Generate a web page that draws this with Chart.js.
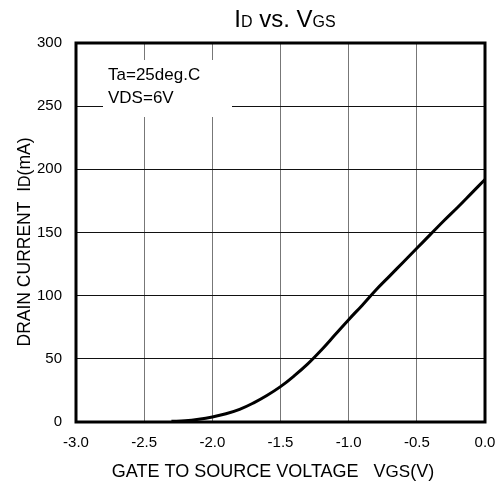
<!DOCTYPE html>
<html>
<head>
<meta charset="utf-8">
<script src="https://cdn.jsdelivr.net/npm/chart.js@4/dist/chart.umd.min.js"></script>
<style>
  html, body { margin: 0; padding: 0; background: #fff; }
  #wrap { width: 498px; height: 489px; }
</style>
</head>
<body>
<div id="wrap"><canvas id="chart" width="498" height="489"></canvas></div>
<script>
// Vgs (V) and Id (mA)
const vgs = [-2.3, -2.2, -2.1, -2.0, -1.9, -1.8, -1.7, -1.6, -1.5, -1.4, -1.3, -1.2,
  -1.1, -1.0, -0.9, -0.8, -0.7, -0.6, -0.5, -0.4, -0.3, -0.2, -0.1, 0.0];
const idMa = [0.5, 1, 2.2, 4, 6.5, 10, 15, 21, 28, 36.5, 46, 57,
  69, 81, 92.5, 104.5, 115.5, 126.5, 137.5, 148.5, 159.5, 170, 181, 192];

const xTicks = [-3.0, -2.5, -2.0, -1.5, -1.0, -0.5, 0.0];
const yTicks = [0, 50, 100, 150, 200, 250, 300];
const noteLines = ["Ta=25deg.C", "VDS=6V"];

const FONT = "'Liberation Sans', Arial, sans-serif";

// draws text pieces in a row, some of them as small subscripts
function drawParts(c, parts, x, y, big, small) {
  let w = 0;
  parts.forEach(p => {
    c.font = (p.sub ? small : big) + "px " + FONT;
    w += c.measureText(p.t).width;
  });
  let cx = x - w / 2;
  c.textAlign = "left";
  c.textBaseline = "alphabetic";
  parts.forEach(p => {
    c.font = (p.sub ? small : big) + "px " + FONT;
    c.fillText(p.t, cx, y);
    cx += c.measureText(p.t).width;
  });
}

const decor = {
  id: "decor",
  beforeDatasetsDraw(chart) {
    const c = chart.ctx;
    const a = chart.chartArea;
    // note box over the grid
    c.save();
    c.fillStyle = "#fff";
    c.fillRect(a.left + 27, a.top + 17, 129, 57);
    c.fillStyle = "#000";
    c.font = "17px " + FONT;
    c.textAlign = "left";
    c.textBaseline = "middle";
    c.fillText(noteLines[0], a.left + 32, a.top + 32);
    c.fillText(noteLines[1], a.left + 32, a.top + 55);
    c.restore();
  },
  afterDatasetsDraw(chart) {
    const c = chart.ctx;
    const a = chart.chartArea;
    c.save();
    c.strokeStyle = "#000";
    c.lineWidth = 3;
    c.strokeRect(a.left, a.top, a.right - a.left, a.bottom - a.top);

    c.fillStyle = "#000";
    // title
    drawParts(c, [{t: "I"}, {t: "D", sub: true}, {t: " vs. V"}, {t: "GS", sub: true}],
      285, 27, 24, 16);
    // x axis title
    drawParts(c, [{t: "GATE TO SOURCE VOLTAGE   V"}, {t: "GS", sub: true}, {t: "(V)"}],
      273, 477, 18, 17);
    // y axis title
    c.translate(30, 242);
    c.rotate(-Math.PI / 2);
    drawParts(c, [{t: "DRAIN CURRENT  I"}, {t: "D", sub: true}, {t: "(mA)"}],
      0, 0, 17.5, 16);
    c.restore();
  }
};

new Chart(document.getElementById("chart"), {
  type: "line",
  data: {
    datasets: [{
      data: vgs.map((v, i) => ({ x: v, y: idMa[i] })),
      borderColor: "#000",
      borderWidth: 3,
      pointRadius: 0,
      tension: 0.4,
      fill: false
    }]
  },
  options: {
    responsive: false,
    animation: false,
    layout: { padding: { top: 43, right: 0, bottom: 0, left: 0 } },
    plugins: {
      legend: { display: false },
      tooltip: { enabled: false },
      title: { display: false }
    },
    scales: {
      x: {
        type: "linear",
        min: xTicks[0],
        max: xTicks[xTicks.length - 1],
        afterFit: s => { s.height = 67; s.paddingRight = 13; },
        afterBuildTicks: s => { s.ticks = xTicks.map(v => ({ value: v })); },
        ticks: {
          color: "#000",
          font: { family: FONT, size: 15 },
          padding: 12,
          maxRotation: 0,
          callback: v => Number(v).toFixed(1)
        },
        grid: { color: "#777", lineWidth: 1, drawTicks: false },
        border: { display: false }
      },
      y: {
        min: yTicks[0],
        max: yTicks[yTicks.length - 1],
        afterFit: s => { s.width = 76; },
        afterBuildTicks: s => { s.ticks = yTicks.map(v => ({ value: v })); },
        ticks: {
          color: "#000",
          font: { family: FONT, size: 15 },
          padding: 14
        },
        grid: { color: "#111", lineWidth: 1, drawTicks: false },
        border: { display: false }
      }
    }
  },
  plugins: [decor]
});
</script>
</body>
</html>
